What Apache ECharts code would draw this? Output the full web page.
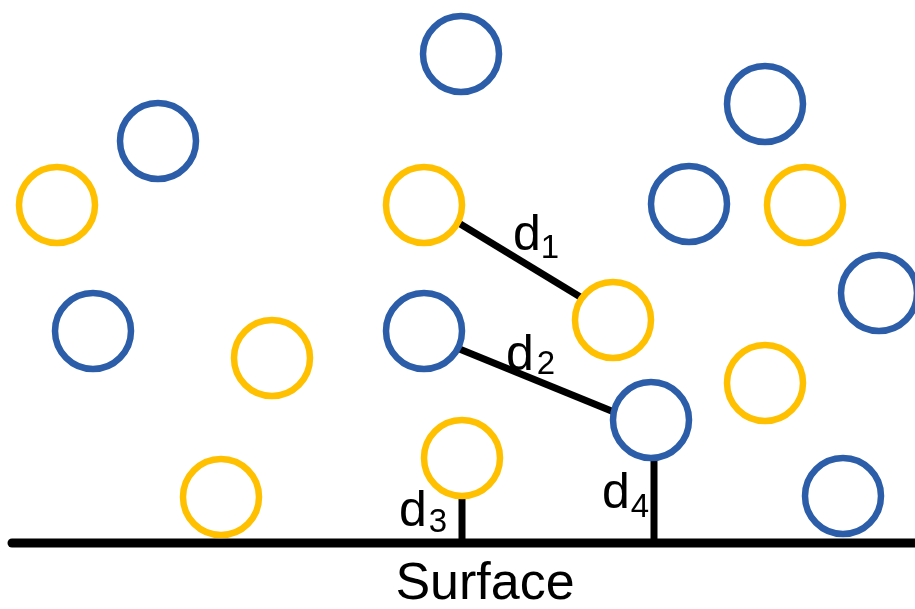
<!DOCTYPE html>
<html>
<head>
<meta charset="utf-8">
<script src="https://cdn.jsdelivr.net/npm/echarts@6/dist/echarts.min.js"></script>
<style>html,body{margin:0;padding:0;background:#fff}#c{width:915px;height:609px}</style>
</head>
<body>
<div id="c"></div>
<script>
// Diagram coordinates (x, y with y measured downward)
var blueCircles = [[461,54],[158,141],[765,104],[689,204],[879,293],[93,331],[424,331],[651,420],[843,496]];
var yellowCircles = [[57,205],[424,205],[613,320],[272,358],[765,383],[462,458],[221,497],[805,205]];
var distanceSegments = [
  [[457,222],[582,298]],
  [[457,348],[614,412]],
  [[462,499],[462,541]],
  [[654,461],[654,541]]
];
var surfaceLine = [[12,543],[915,543]];
var mainLabels = [[527,236,'d'],[520,356,'d'],[413,512,'d'],[616,494,'d']];
var subLabels = [[550,249,'1'],[546,365,'2'],[438,523,'3'],[640,508,'4']];
var surfaceLabel = [[485,585,'Surface']];

var BLUE = '#2B5DA8', YELLOW = '#FFC000';
var chart = echarts.init(document.getElementById('c'));
var series = [];
distanceSegments.forEach(function(seg){
  series.push({type:'line', data:seg, symbol:'none', silent:true, animation:false,
    lineStyle:{color:'#000', width:7, cap:'butt', opacity:1}, z:3});
});
series.push({type:'line', data:surfaceLine, symbol:'none', animation:false,
  lineStyle:{color:'#000', width:9, cap:'round', opacity:1}, z:3});
function circles(data, color){
  return {type:'scatter', data:data, symbol:'circle', symbolSize:76, animation:false,
    itemStyle:{color:'rgba(0,0,0,0)', borderColor:color, borderWidth:6.5, opacity:1}, z:4};
}
series.push(circles(blueCircles, BLUE));
series.push(circles(yellowCircles, YELLOW));
function texts(data, size){
  return {type:'scatter', data:data, symbolSize:0, animation:false, z:5,
    itemStyle:{opacity:1},
    label:{show:true, position:'inside', formatter:function(p){return p.data[2];},
      color:'#000000', textBorderWidth:0, opacity:1, fontSize:size,
      fontFamily:'Liberation Sans, Arial, sans-serif',
      align:'center', verticalAlign:'middle'}};
}
series.push(texts(mainLabels, 50));
series.push(texts(subLabels, 33));
series.push(texts(surfaceLabel, 52));

chart.setOption({
  animation:false,
  grid:{left:0,right:0,top:0,bottom:0},
  xAxis:{type:'value', min:0, max:915, show:false},
  yAxis:{type:'value', min:0, max:609, inverse:true, show:false},
  series:series
});
</script>
</body>
</html>
